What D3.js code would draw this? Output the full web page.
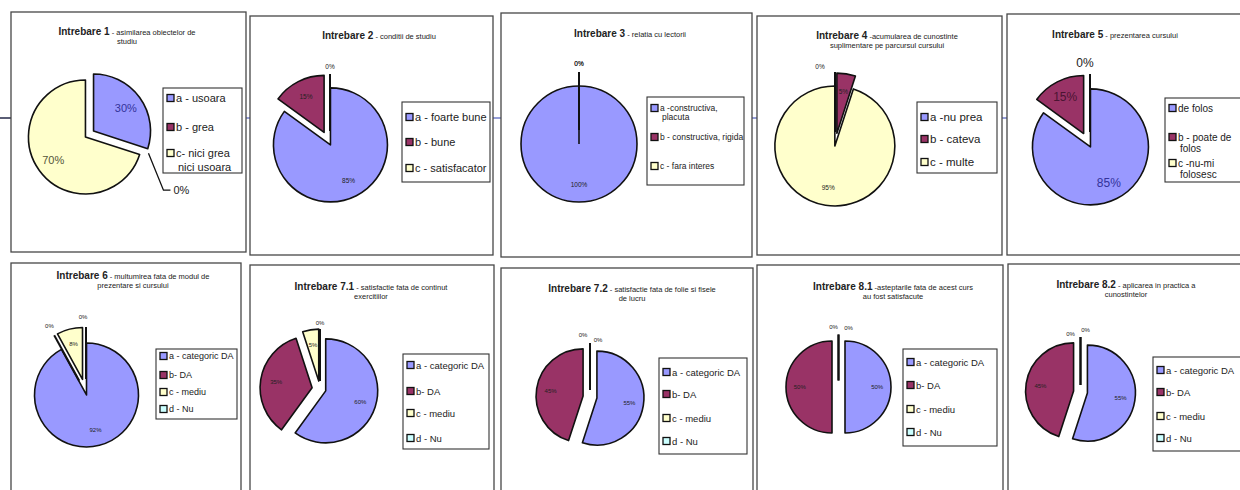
<!DOCTYPE html>
<html>
<head>
<meta charset="utf-8">
<script src="https://cdn.jsdelivr.net/npm/d3@7"></script>
<style>
  body { margin: 0; background: #fff; }
  svg { display: block; font-family: "Liberation Sans", Arial, sans-serif; }
</style>
</head>
<body>
<svg id="chart" width="1240" height="490"></svg>
<script>
// ---- data ----
const questionIds = ["1", "2", "3", "4", "5", "6", "7.1", "7.2", "8.1", "8.2"];

const questionSubtitles = [
  ["- asimilarea obiectelor de", "studiu"],
  ["- conditii de studiu"],
  ["- relatia cu lectorii"],
  ["-acumularea de cunostinte", "suplimentare pe parcursul cursului"],
  ["- prezentarea cursului"],
  ["- multumirea fata de modul de", "prezentare si cursului"],
  ["- satisfactie fata de continut", "exercitiilor"],
  ["- satisfactie fata de folie si fisele", "de lucru"],
  ["-asteptarile fata de acest curs", "au fost satisfacute"],
  ["- aplicarea in practica a", "cunostintelor"]
];

const fourOptions = [["a - categoric DA"], ["b- DA"], ["c - mediu"], ["d - Nu"]];
const legendLabels = [
  [["a - usoara"], ["b - grea"], ["c- nici grea", "nici usoara"]],
  [["a - foarte bune"], ["b - bune"], ["c - satisfacator"]],
  [["a -constructiva,", "placuta"], ["b - constructiva, rigida"], ["c - fara interes"]],
  [["a -nu prea"], ["b - cateva"], ["c - multe"]],
  [["de folos"], ["b - poate de", "folos"], ["c -nu-mi", "folosesc"]],
  fourOptions, fourOptions, fourOptions, fourOptions, fourOptions
];

// percentages per question, in legend order
const percentValues = [
  [30, 0, 70],
  [85, 15, 0],
  [100, 0, 0],
  [0, 5, 95],
  [85, 15, 0],
  [92, 0, 8, 0],
  [60, 35, 5, 0],
  [55, 45, 0, 0],
  [50, 50, 0, 0],
  [55, 45, 0, 0]
];

// ---- styles / layout ----
const sliceColors = ["#9999FF", "#993366", "#FFFFCC", "#CCFFFF"];
const strongLabelColors = ["#33339a", "#4a1432", "#55553a", "#333"];

const panelLayout = [
  {box: [11, 12, 235, 240], title: [127, 35], pie: [89.5, 134, 57], explode: [5, 5, 5], legend: [163, 88, 79, 85], rows: [98, 127, 153], lfs: 11, lh: 14, pfs: 11, strong: true, leader: true},
  {box: [250, 16, 243, 239], title: [379, 39], pie: [330, 144, 57], explode: [1, 13, 13], legend: [402, 102, 88, 80], rows: [117, 142, 168], lfs: 11, pfs: 6.5, dz: 8},
  {box: [501, 13, 251, 244], title: [630, 37], pie: [579, 144, 58], explode: [0, 14, 14], legend: [647, 97, 97, 88], rows: [108, 137, 166], lfs: 8.5, lh: 9, pfs: 6.5, dz: 9},
  {box: [757, 16, 245, 239], title: [887, 39], pie: [835, 145, 60], explode: [13, 12, 1], legend: [917, 102, 80, 71], rows: [117, 139, 162], lfs: 11.5, pfs: 6.5, dz: 6, nudge: {0: [-15, 0]}},
  {box: [1007, 14, 250, 241], title: [1115, 38], pie: [1090, 146, 58], explode: [1, 14, 14], legend: [1165, 98, 90, 84], rows: [108, 137, 163], lfs: 10, lh: 11, pfs: 12, strong: true, dz: 11, nudge: {2: [-5, 0]}},
  {box: [11, 263, 230, 240], title: [133, 279], pie: [86, 393, 52], explode: [2, 14, 14, 14], legend: [156, 349, 81, 70], rows: [356, 375, 392, 409], lfs: 9, pfs: 6, dz: 10, nudge: {3: [-3, 0]}},
  {box: [250, 265, 244, 240], title: [371, 290], pie: [320, 389, 52], explode: [6, 8, 8, 8], legend: [403, 354, 86, 95], rows: [365, 391, 413, 438], lfs: 9.5, pfs: 6, dz: 6},
  {box: [501, 268, 252, 240], title: [632, 292], pie: [590, 397, 47], explode: [7, 7, 7, 7], legend: [659, 358, 88, 96], rows: [372, 394, 418, 441], lfs: 9.5, pfs: 6, dz: 5, nudge: {2: [-7, -3], 3: [8, 2]}},
  {box: [757, 265, 246, 240], title: [893, 290], pie: [838.5, 387, 46], explode: [6.5, 6.5, 6.5, 6.5], legend: [903, 349, 94, 97], rows: [362, 385, 409, 432], lfs: 9.5, pfs: 6, dz: 8, nudge: {2: [-5, 0], 3: [10, 1]}},
  {box: [1008, 264, 250, 240], title: [1126, 288], pie: [1080.5, 392, 48], explode: [7, 7, 7, 7], legend: [1153, 357, 95, 94], rows: [370, 392, 416, 438], lfs: 9.5, pfs: 6, dz: 5, nudge: {2: [-10, 2], 3: [5, -2]}}
];

const svg = d3.select("#chart");

// connector line of the underlying document, visible between the panels
svg.append("line")
  .attr("x1", 0).attr("x2", 1240).attr("y1", 118).attr("y2", 118)
  .attr("stroke", "#2a3cb0").attr("stroke-width", 1);
svg.append("line")
  .attr("x1", 0).attr("x2", 11).attr("y1", 118).attr("y2", 118)
  .attr("stroke", "#333").attr("stroke-width", 1.2);

const pie = d3.pie().sort(null).value(d => d);
const dir = a => [Math.sin(a), -Math.cos(a)];

panelLayout.forEach((L, i) => {
  const g = svg.append("g").attr("class", "panel");
  const [bx, by, bw, bh] = L.box;

  g.append("rect")
    .attr("x", bx).attr("y", by).attr("width", bw).attr("height", bh)
    .attr("fill", "#fff").attr("stroke", "#474747").attr("stroke-width", 1.3);

  // title
  const [tx, ty] = L.title;
  const sub = questionSubtitles[i];
  const t = g.append("text")
    .attr("x", tx).attr("y", ty).attr("text-anchor", "middle").attr("fill", "#222");
  t.append("tspan").attr("font-weight", "bold").attr("font-size", 10).text("Intrebare " + questionIds[i]);
  t.append("tspan").attr("font-size", 7.5).text(" " + sub[0]);
  if (sub[1]) {
    g.append("text")
      .attr("x", tx).attr("y", ty + 9).attr("text-anchor", "middle")
      .attr("font-size", 7.5).attr("fill", "#222").text(sub[1]);
  }

  // pie
  const [cx, cy, r] = L.pie;
  const arcs = pie(percentValues[i]);
  const arc = d3.arc().innerRadius(0).outerRadius(r);

  arcs.forEach((a, j) => {
    if (a.value <= 0) return;
    const e = L.explode[j];
    const [ux, uy] = dir((a.startAngle + a.endAngle) / 2);
    const ox = cx + ux * e, oy = cy + uy * e;
    g.append("path")
      .attr("d", arc(a))
      .attr("transform", `translate(${ox},${oy})`)
      .attr("fill", sliceColors[j])
      .attr("stroke", "#111").attr("stroke-width", 1.6)
      .attr("stroke-linejoin", "round");
    if (a.endAngle - a.startAngle > 2 * Math.PI - 1e-6) {
      // a full pie still gets its radius border, as Excel draws it
      const [vx, vy] = dir(a.startAngle);
      g.append("line")
        .attr("x1", ox).attr("y1", oy)
        .attr("x2", ox + vx * r).attr("y2", oy + vy * r)
        .attr("stroke", "#111").attr("stroke-width", 1.6);
    }
  });

  // zero-value slices collapse into a single border line
  arcs.forEach((a, j) => {
    if (a.value > 0 || L.leader) return;
    const e = L.explode[j];
    const [vx, vy] = dir(a.startAngle);
    g.append("line")
      .attr("x1", cx + vx * e).attr("y1", cy + vy * e)
      .attr("x2", cx + vx * (r + e)).attr("y2", cy + vy * (r + e))
      .attr("stroke", "#111").attr("stroke-width", 2);
  });

  // data labels
  arcs.forEach((a, j) => {
    const e = L.explode[j];
    const mid = (a.startAngle + a.endAngle) / 2;
    const [ux, uy] = dir(mid);
    let x, y, anchor = "middle", col = "#222";
    if (a.value > 0) {
      const d = e + 0.7 * r;
      x = cx + ux * d; y = cy + uy * d;
      if (L.strong) col = strongLabelColors[j];
    } else if (L.leader) {
      const px = cx + ux * (r + e), py = cy + uy * (r + e);
      g.append("path")
        .attr("d", `M${px},${py}L${px + 15},${py + 37}L${px + 22},${py + 37}`)
        .attr("fill", "none").attr("stroke", "#111").attr("stroke-width", 1.3);
      x = px + 25; y = py + 37; anchor = "start";
    } else {
      const d = e + r + (L.dz || 9);
      const n = (L.nudge && L.nudge[j]) || [0, 0];
      x = cx + ux * d + n[0]; y = cy + uy * d + n[1];
    }
    g.append("text")
      .attr("x", x).attr("y", y)
      .attr("text-anchor", anchor).attr("dominant-baseline", "central")
      .attr("font-size", L.pfs).attr("fill", col)
      .text(a.value + "%");
  });

  // legend
  const [lx, ly, lw, lh] = L.legend;
  g.append("rect")
    .attr("x", lx).attr("y", ly).attr("width", lw).attr("height", lh)
    .attr("fill", "#fff").attr("stroke", "#333").attr("stroke-width", 1.1);
  legendLabels[i].forEach((lines, j) => {
    const y = L.rows[j];
    g.append("rect")
      .attr("x", lx + 4).attr("y", y - 3.5).attr("width", 7).attr("height", 7)
      .attr("fill", sliceColors[j]).attr("stroke", "#111").attr("stroke-width", 1.3);
    lines.forEach((s, m) => {
      g.append("text")
        .attr("x", lx + 13 + (m > 0 ? 2 : 0)).attr("y", y + m * (L.lh || 10))
        .attr("dominant-baseline", "central")
        .attr("font-size", L.lfs).attr("fill", "#222")
        .text(s);
    });
  });
});
</script>
</body>
</html>
